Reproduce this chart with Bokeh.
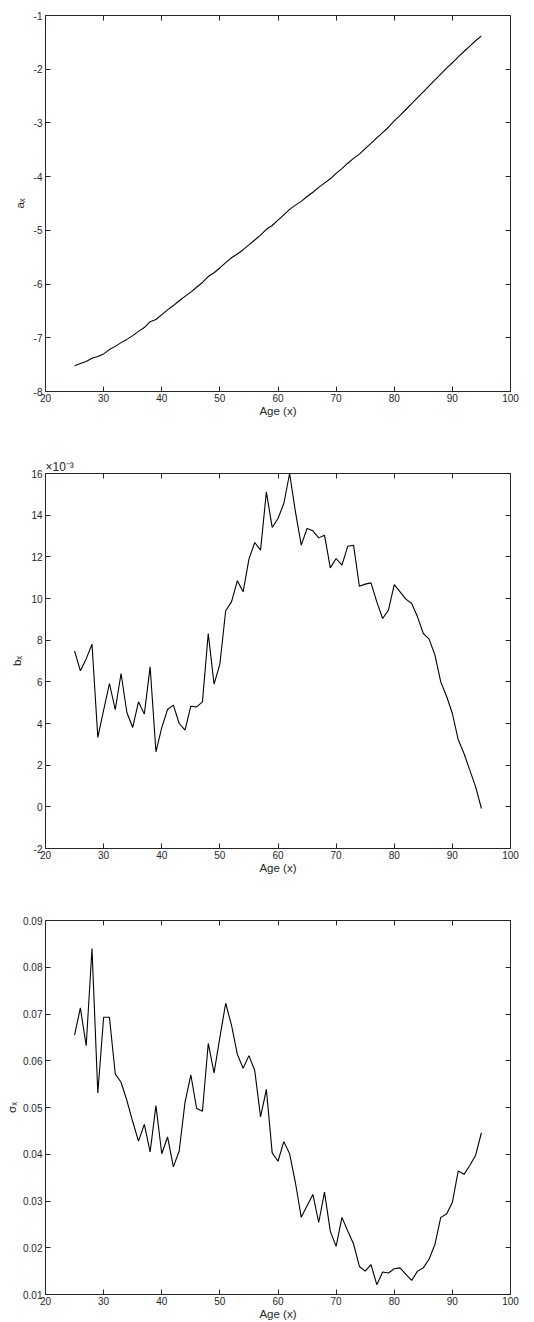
from bokeh.plotting import figure
from bokeh.models import Range1d, LinearAxis, FixedTicker, PrintfTickFormatter, CustomJSTickFormatter
from bokeh.layouts import column
from bokeh.embed import file_html
from bokeh.resources import INLINE

# ---------------- data ----------------
ages = list(range(25, 96))

a_x = [-7.52, -7.48, -7.44, -7.38, -7.35, -7.30, -7.22, -7.16, -7.09, -7.03,
       -6.96, -6.88, -6.81, -6.70, -6.66, -6.57, -6.48, -6.40, -6.31, -6.23,
       -6.15, -6.06, -5.97, -5.86, -5.79, -5.70, -5.60, -5.51, -5.44, -5.36,
       -5.27, -5.18, -5.09, -4.98, -4.91, -4.81, -4.71, -4.61, -4.53, -4.46,
       -4.37, -4.29, -4.20, -4.12, -4.04, -3.94, -3.85, -3.75, -3.66, -3.58,
       -3.48, -3.38, -3.28, -3.18, -3.08, -2.96, -2.86, -2.75, -2.64, -2.53,
       -2.42, -2.31, -2.20, -2.09, -1.98, -1.88, -1.77, -1.67, -1.57, -1.47,
       -1.38]

# b_x in units of 1e-3
b_x = [7.49, 6.53, 7.10, 7.81, 3.33, 4.64, 5.92, 4.67, 6.40, 4.53,
       3.81, 5.04, 4.45, 6.72, 2.64, 3.80, 4.67, 4.88, 4.00, 3.68,
       4.83, 4.80, 5.04, 8.32, 5.89, 6.85, 9.41, 9.84, 10.85, 10.32,
       11.89, 12.69, 12.32, 15.12, 13.41, 13.84, 14.56, 16.00, 14.16, 12.56,
       13.36, 13.25, 12.91, 13.04, 11.47, 11.92, 11.60, 12.51, 12.56, 10.59,
       10.69, 10.75, 9.84, 9.04, 9.44, 10.67, 10.32, 9.97, 9.76, 9.12,
       8.32, 8.05, 7.28, 6.00, 5.31, 4.48, 3.23, 2.56, 1.76, 0.96,
       -0.08]

sigma_x = [0.0655, 0.0713, 0.0632, 0.0840, 0.0531, 0.0693, 0.0693, 0.0572, 0.0554, 0.0515,
           0.0470, 0.0428, 0.0464, 0.0405, 0.0504, 0.0401, 0.0437, 0.0373, 0.0407, 0.0511,
           0.0570, 0.0498, 0.0492, 0.0637, 0.0574, 0.0650, 0.0723, 0.0676, 0.0614, 0.0584,
           0.0611, 0.0579, 0.0480, 0.0539, 0.0403, 0.0385, 0.0427, 0.0401, 0.0339, 0.0265,
           0.0290, 0.0314, 0.0254, 0.0319, 0.0235, 0.0203, 0.0265, 0.0236, 0.0208, 0.0160,
           0.0150, 0.0164, 0.0121, 0.0148, 0.0146, 0.0155, 0.0157, 0.0143, 0.0130, 0.0150,
           0.0157, 0.0176, 0.0207, 0.0265, 0.0272, 0.0297, 0.0364, 0.0357, 0.0376, 0.0398,
           0.0446]

x_ticks = [20, 30, 40, 50, 60, 70, 80, 90, 100]
a_ticks = [-8, -7, -6, -5, -4, -3, -2, -1]
b_ticks = [-2, 0, 2, 4, 6, 8, 10, 12, 14, 16]
s_ticks = [0.01, 0.02, 0.03, 0.04, 0.05, 0.06, 0.07, 0.08, 0.09]

FONT = "Liberation Sans"
TXT = "#262626"


def style_axis(ax, ticks, labels=True):
    ax.ticker = FixedTicker(ticks=ticks)
    ax.axis_line_color = None
    ax.major_tick_in = 5
    ax.major_tick_out = 0
    ax.major_tick_line_color = TXT
    ax.minor_tick_line_color = None
    ax.major_label_text_font = FONT
    ax.major_label_text_color = TXT
    if labels:
        ax.major_label_text_font_size = "10px"
        ax.major_label_standoff = 3
    else:
        ax.formatter = CustomJSTickFormatter(code="return ''")
        ax.major_label_text_font_size = "0px"
        ax.major_label_standoff = 0


def make(y, yr, yticks, ylabel, height, top, bottom, fmt, ylab_standoff):
    p = figure(width=534, height=height, x_range=Range1d(20, 100), y_range=Range1d(*yr),
               output_backend="svg", toolbar_location=None,
               min_border_top=top, min_border_bottom=bottom,
               min_border_left=45, min_border_right=24)
    p.grid.visible = False
    p.outline_line_color = TXT
    p.outline_line_width = 1
    p.background_fill_color = "white"
    p.border_fill_color = "white"
    p.line(ages, y, line_color="black", line_width=1.1)

    style_axis(p.xaxis[0], x_ticks)
    style_axis(p.yaxis[0], yticks)
    p.xaxis[0].formatter = PrintfTickFormatter(format="%d")
    p.xaxis[0].major_label_standoff = 2
    p.yaxis[0].formatter = fmt
    for ax, lab in ((p.xaxis[0], "Age (x)"), (p.yaxis[0], ylabel)):
        ax.axis_label = lab
        ax.axis_label_text_font = FONT
        ax.axis_label_text_font_size = "11.5px"
        ax.axis_label_text_font_style = "normal"
        ax.axis_label_text_color = TXT
    p.xaxis[0].axis_label_standoff = 0
    p.yaxis[0].axis_label_standoff = ylab_standoff

    top_ax = LinearAxis()
    style_axis(top_ax, x_ticks, labels=False)
    p.add_layout(top_ax, "above")
    right_ax = LinearAxis()
    style_axis(right_ax, yticks, labels=False)
    p.add_layout(right_ax, "right")
    return p


p1 = make(a_x, (-8, -1), a_ticks, "aₓ", 448, 15, 57,
          PrintfTickFormatter(format="%d"), 5)
p2 = make(b_x, (-2, 16), b_ticks, "bₓ", 440, 25, 40,
          PrintfTickFormatter(format="%d"), 5)
p2.title.text = "×10⁻³"
p2.title.align = "left"
p2.title.text_font = FONT
p2.title.text_font_size = "12px"
p2.title.text_font_style = "normal"
p2.title.text_color = TXT
p2.title.standoff = 0
p3 = make(sigma_x, (0.01, 0.09), s_ticks, "σₓ", 434, 32, 26,
          PrintfTickFormatter(format="%.2f"), 2)

layout = column(p1, p2, p3)
open("out.html", "w").write(file_html(layout, INLINE))
